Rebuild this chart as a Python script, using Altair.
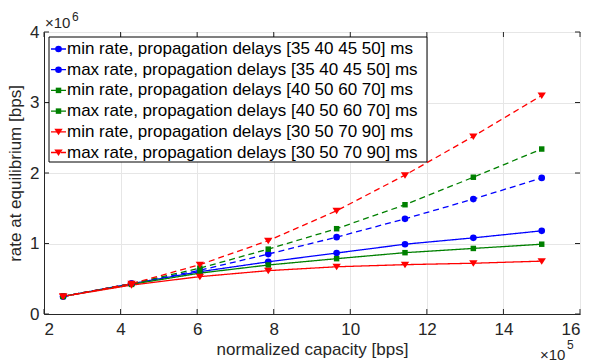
import altair as alt
import pandas as pd

# capacity in units of 1e5 bps, rates in units of 1e6 bps
capacity = [2.5, 4.286, 6.071, 7.857, 9.643, 11.429, 13.214, 15.0]
blue_min = [0.25, 0.43, 0.60, 0.74, 0.865, 0.99, 1.08, 1.18]
blue_max = [0.25, 0.43, 0.62, 0.85, 1.09, 1.35, 1.63, 1.93]
green_min = [0.25, 0.42, 0.58, 0.695, 0.785, 0.87, 0.93, 0.99]
green_max = [0.25, 0.43, 0.65, 0.92, 1.21, 1.55, 1.94, 2.34]
red_min = [0.25, 0.41, 0.53, 0.615, 0.67, 0.70, 0.72, 0.75]
red_max = [0.25, 0.43, 0.70, 1.04, 1.465, 1.97, 2.52, 3.10]

names = [
    "min rate, propagation delays [35 40 45 50] ms",
    "max rate, propagation delays [35 40 45 50] ms",
    "min rate, propagation delays [40 50 60 70] ms",
    "max rate, propagation delays [40 50 60 70] ms",
    "min rate, propagation delays [30 50 70 90] ms",
    "max rate, propagation delays [30 50 70 90] ms",
]
colors = ["#0000FF", "#0000FF", "#008000", "#008000", "#FF0000", "#FF0000"]
TRI = "M-1,-0.7L1,-0.7L0,0.85Z"
shapes = ["circle", "circle", "square", "square", TRI, TRI]
sizes = [44, 44, 30, 30, 70, 70]
dashes = [[1, 0], [6, 4], [1, 0], [6, 4], [1, 0], [6, 4]]
series = [blue_min, blue_max, green_min, green_max, red_min, red_max]

x_ticks = [2, 4, 6, 8, 10, 12, 14, 16]
y_ticks = [0, 1, 2, 3, 4]

rows = []
for i, (n, s) in enumerate(zip(names, series)):
    for xv, yv in zip(capacity, s):
        rows.append({"cap": xv, "rate": yv, "series": n, "order": i, "msize": sizes[i]})
df = pd.DataFrame(rows)

W, H = 536, 282
FONT = "Liberation Sans"
TXT = "#262626"
FS = 17

xs = alt.Scale(domain=[2, 16], nice=False, zero=False)
ys = alt.Scale(domain=[0, 4], nice=False, zero=False)
col = alt.Scale(domain=names, range=colors)
shp = alt.Scale(domain=names, range=shapes)
dsh = alt.Scale(domain=names, range=dashes)

base = alt.Chart(df)

lines = base.mark_line(strokeWidth=1.3).encode(
    x=alt.X("cap:Q", scale=xs,
            axis=alt.Axis(values=x_ticks, format="d", title="normalized capacity [bps]",
                          grid=True, tickSize=0, labelPadding=7, titlePadding=4)),
    y=alt.Y("rate:Q", scale=ys,
            axis=alt.Axis(values=y_ticks, format="d", title="rate at equilibrium [bps]",
                          grid=True, tickSize=0, labelPadding=5, titlePadding=5)),
    color=alt.Color("series:N", scale=col, legend=None),
    strokeDash=alt.StrokeDash("series:N", scale=dsh, legend=None),
    detail="series:N",
    order="order:Q",
)

points = base.mark_point(filled=True, opacity=1).encode(
    x=alt.X("cap:Q", scale=xs),
    y=alt.Y("rate:Q", scale=ys),
    color=alt.Color("series:N", scale=col, legend=None),
    shape=alt.Shape("series:N", scale=shp, legend=None),
    size=alt.Size("msize:Q", scale=None, legend=None),
)

# inside ticks (MATLAB style box)
xt = pd.DataFrame({"t": x_ticks})
yt = pd.DataFrame({"t": y_ticks})
xtick_b = alt.Chart(xt).mark_rule(color=TXT, strokeWidth=1).encode(
    x=alt.X("t:Q", scale=xs), y=alt.value(H), y2=alt.value(H - 5))
xtick_t = alt.Chart(xt).mark_rule(color=TXT, strokeWidth=1).encode(
    x=alt.X("t:Q", scale=xs), y=alt.value(0), y2=alt.value(5))
ytick_l = alt.Chart(yt).mark_rule(color=TXT, strokeWidth=1).encode(
    y=alt.Y("t:Q", scale=ys), x=alt.value(0), x2=alt.value(5))
ytick_r = alt.Chart(yt).mark_rule(color=TXT, strokeWidth=1).encode(
    y=alt.Y("t:Q", scale=ys), x=alt.value(W), x2=alt.value(W - 5))

# legend
leg = pd.DataFrame({"name": names, "idx": list(range(6)), "msize": sizes})
legbase = alt.Chart(leg).transform_calculate(ly="17 + datum.idx * 20.7")
box = alt.Chart(pd.DataFrame({"a": [0]})).mark_rect(
    fill="white", stroke="black", strokeWidth=1).encode(
    x=alt.value(5), x2=alt.value(383), y=alt.value(5), y2=alt.value(130))
leg_lines = legbase.mark_rule(strokeWidth=1.3).encode(
    x=alt.value(7), x2=alt.value(22),
    y=alt.Y("ly:Q", scale=None),
    color=alt.Color("name:N", scale=col, legend=None),
    strokeDash=alt.StrokeDash("name:N", scale=alt.Scale(domain=names, range=[[1, 0], [4, 2]] * 3), legend=None),
)
leg_pts = legbase.mark_point(filled=True, opacity=1).encode(
    x=alt.value(14.5),
    y=alt.Y("ly:Q", scale=None),
    color=alt.Color("name:N", scale=col, legend=None),
    shape=alt.Shape("name:N", scale=shp, legend=None),
    size=alt.Size("msize:Q", scale=None, legend=None),
)
leg_txt = legbase.mark_text(align="left", baseline="middle", font=FONT,
                            fontSize=FS, color="black").encode(
    x=alt.value(23),
    y=alt.Y("ly:Q", scale=None),
    text="name:N",
)

# exponent labels
one = pd.DataFrame({"a": [0]})
ey1 = alt.Chart(one).mark_text(align="left", baseline="alphabetic", font=FONT,
                               fontSize=15, color=TXT, text="×10").encode(
    x=alt.value(1), y=alt.value(-4))
ey2 = alt.Chart(one).mark_text(align="left", baseline="alphabetic", font=FONT,
                               fontSize=12, color=TXT, text="6").encode(
    x=alt.value(28), y=alt.value(-11))
ex1 = alt.Chart(one).mark_text(align="left", baseline="alphabetic", font=FONT,
                               fontSize=15, color=TXT, text="×10").encode(
    x=alt.value(W - 40), y=alt.value(H + 46))
ex2 = alt.Chart(one).mark_text(align="left", baseline="alphabetic", font=FONT,
                               fontSize=12, color=TXT, text="5").encode(
    x=alt.value(W - 13), y=alt.value(H + 35))

chart = alt.layer(
    xtick_b, xtick_t, ytick_l, ytick_r,
    lines, points,
    box, leg_lines, leg_pts, leg_txt,
    ey1, ey2, ex1, ex2,
).properties(
    width=W, height=H,
    background="white",
    autosize=alt.AutoSizeParams(type="none"),
    padding={"left": 44, "top": 32, "right": 18, "bottom": 48},
).configure_view(
    stroke=TXT, strokeWidth=1
).configure_axis(
    labelFont=FONT, titleFont=FONT, labelFontSize=FS, titleFontSize=FS,
    labelColor=TXT, titleColor=TXT, titleFontWeight="normal",
    domainColor=TXT, domainWidth=1, gridColor="#e6e6e6", gridWidth=1,
)

chart.save("out.html", embed_options={"renderer": "svg", "actions": False})
